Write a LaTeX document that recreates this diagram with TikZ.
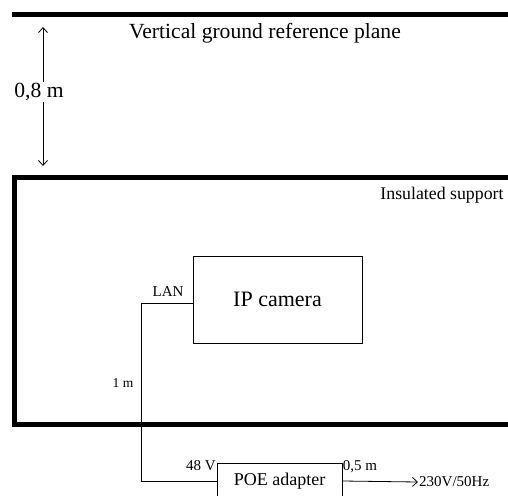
\documentclass[tikz,border=0pt]{standalone}
\usepackage{fontspec}
\setmainfont{Liberation Serif}
\usepackage{tikz}
\usetikzlibrary{arrows.meta}
\tikzset{
    unit/.style={rectangle,draw,line width=0.8pt,inner sep=0pt},
    tag/.style={rectangle,draw=none,inner sep=1pt,font=\fontsize{15}{17}\selectfont},
    wall/.style={line width=5pt},
    wire/.style={line width=0.8pt},
    directed/.style={line width=0.8pt,arrows={-Straight Barb[length=5pt,width=9pt]}},
    }
\begin{document}
\begin{tikzpicture}[x=1pt,y=-1pt]
	\clip (0,0) rectangle (508,495);
	\useasboundingbox (0,0) rectangle (508,495);

		\draw[wall] (12,15) -- (520,15);
		\draw[wall] (520,177) -- (14.5,177) -- (14.5,424.5) -- (520,424.5);

		\node[tag,font=\fontsize{21.6}{24}\selectfont] (plane) at (265,33) {Vertical ground reference plane};
		\node[tag,font=\fontsize{17.8}{20}\selectfont] (support) at (442,195) {Insulated support};

		\node[tag,font=\fontsize{21.6}{24}\selectfont] (gap) at (39,92) {0,8 m};
		\coordinate (gtop) at (43,27);
		\coordinate (gbot) at (43,166);

		\node[unit,minimum width=169pt,minimum height=87pt,font=\fontsize{22}{24}\selectfont] (cam) at (277.5,299.5) {IP camera};
		\node[unit,minimum width=125pt,minimum height=36pt,font=\fontsize{18}{20}\selectfont] (poe) at (279.5,481) {POE adapter};
		\node[tag,anchor=west] (mains) at (418,482) {230V/50Hz};

		\node[tag] (lan) at (168,292) {LAN};
		\node[tag,font=\fontsize{13.5}{15}\selectfont] (len1) at (123,383) {1 m};
		\node[tag] (volt) at (201,466) {48 V};
		\node[tag] (len2) at (360,467) {0,5 m};

	\draw[directed] (gap.north-|gtop) to (gtop);
	\draw[directed] (gap.south-|gbot) to (gbot);

	\draw[wire] ([yshift=-3.5pt]cam.west) -- ++(-51,0) |- (poe.west);
	\draw[directed] (poe.east) to (mains.west);
    \end{tikzpicture}
\end{document}
